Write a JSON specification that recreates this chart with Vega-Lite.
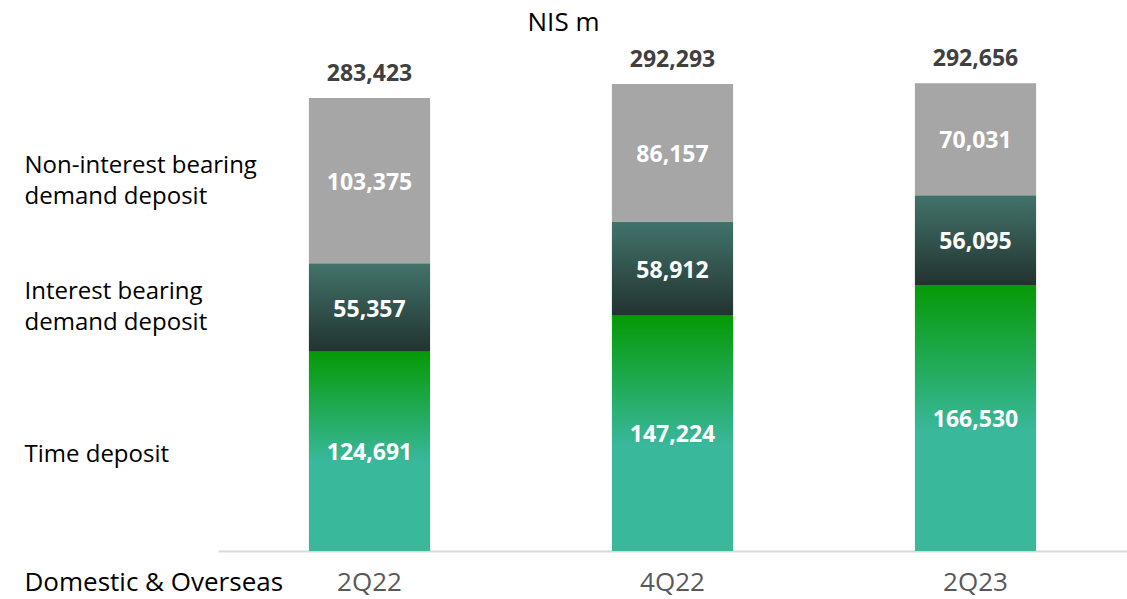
{
  "$schema": "https://vega.github.io/schema/vega-lite/v6.json",
  "autosize": "none",
  "width": 909,
  "height": 491,
  "padding": {"left": 218, "top": 60, "right": 0, "bottom": 48},
  "background": "white",
  "config": {"view": {"stroke": null}},
  "title": {
    "text": "NIS m",
    "font": "Open Sans",
    "fontSize": 26,
    "fontWeight": "normal",
    "color": "#000000",
    "anchor": "middle",
    "dx": -109,
    "offset": 12
  },
  "data": {
    "values": [
      {"quarter": "2Q22", "type": "Time deposit", "order": 1, "value": 124691},
      {"quarter": "2Q22", "type": "Interest bearing demand deposit", "order": 2, "value": 55357},
      {"quarter": "2Q22", "type": "Non-interest bearing demand deposit", "order": 3, "value": 103375},
      {"quarter": "4Q22", "type": "Time deposit", "order": 1, "value": 147224},
      {"quarter": "4Q22", "type": "Interest bearing demand deposit", "order": 2, "value": 58912},
      {"quarter": "4Q22", "type": "Non-interest bearing demand deposit", "order": 3, "value": 86157},
      {"quarter": "2Q23", "type": "Time deposit", "order": 1, "value": 166530},
      {"quarter": "2Q23", "type": "Interest bearing demand deposit", "order": 2, "value": 56095},
      {"quarter": "2Q23", "type": "Non-interest bearing demand deposit", "order": 3, "value": 70031}
    ]
  },
  "transform": [
    {"stack": "value", "groupby": ["quarter"], "sort": [{"field": "order", "order": "ascending"}], "as": ["v0", "v1"]},
    {"calculate": "(datum.v0 + datum.v1) / 2", "as": "mid"}
  ],
  "encoding": {
    "x": {
      "field": "quarter",
      "type": "nominal",
      "sort": ["2Q22", "4Q22", "2Q23"],
      "scale": {"paddingInner": 0.6, "paddingOuter": 0.3},
      "axis": {
        "title": "Domestic & Overseas",
        "titleFont": "Open Sans",
        "titleFontSize": 26,
        "titleFontWeight": "normal",
        "titleColor": "#000000",
        "titleAnchor": "start",
        "titleAlign": "left",
        "titleBaseline": "alphabetic",
        "titleX": -194,
        "titleY": 39,
        "titleLimit": 0,
        "labelAngle": 0,
        "labelFont": "Open Sans",
        "labelFontSize": 26,
        "labelColor": "#595959",
        "labelBaseline": "alphabetic",
        "labelPadding": 39,
        "ticks": false,
        "tickSize": 0,
        "domainColor": "#d9d9d9",
        "domainWidth": 2
      }
    }
  },
  "layer": [
    {
      "transform": [{"filter": "datum.order == 1"}],
      "mark": {
        "type": "bar",
        "color": {
          "gradient": "linear", "x1": 0, "y1": 0, "x2": 0, "y2": 1,
          "stops": [
            {"offset": 0, "color": "#059a06"},
            {"offset": 0.55, "color": "#39b89c"},
            {"offset": 1, "color": "#39b89c"}
          ]
        }
      },
      "encoding": {
        "y": {
          "field": "v0", "type": "quantitative",
          "scale": {"domain": [0, 307260], "nice": false, "zero": true},
          "axis": {
            "values": [60100, 162080, 240930],
            "labelExpr": "datum.value < 100000 ? 'Time deposit' : datum.value < 200000 ? ['Interest bearing', 'demand deposit'] : ['Non-interest bearing', 'demand deposit']",
            "title": null,
            "domain": false,
            "ticks": false,
            "tickSize": 0,
            "grid": false,
            "labelAlign": "left",
            "labelBaseline": "middle",
            "labelPadding": 194,
            "labelFont": "Open Sans",
            "labelFontSize": 24,
            "labelColor": "#000000",
            "labelLineHeight": 31,
            "labelLimit": 0,
            "labelOverlap": false,
            "labelBound": false,
            "labelFlush": false
          }
        },
        "y2": {"field": "v1"}
      }
    },
    {
      "transform": [{"filter": "datum.order == 2"}],
      "mark": {
        "type": "bar",
        "color": {
          "gradient": "linear", "x1": 0, "y1": 0, "x2": 0, "y2": 1,
          "stops": [
            {"offset": 0, "color": "#42736a"},
            {"offset": 1, "color": "#223330"}
          ]
        }
      },
      "encoding": {
        "y": {"field": "v0", "type": "quantitative"},
        "y2": {"field": "v1"}
      }
    },
    {
      "transform": [{"filter": "datum.order == 3"}],
      "mark": {"type": "bar", "color": "#a6a6a6"},
      "encoding": {
        "y": {"field": "v0", "type": "quantitative"},
        "y2": {"field": "v1"}
      }
    },
    {
      "mark": {"type": "text", "font": "Open Sans", "fontSize": 23, "fontWeight": "bold", "color": "#ffffff", "baseline": "middle", "dy": 2},
      "encoding": {
        "y": {"field": "mid", "type": "quantitative"},
        "text": {"field": "value", "type": "quantitative", "format": ","}
      }
    },
    {
      "transform": [{"aggregate": [{"op": "sum", "field": "value", "as": "total"}], "groupby": ["quarter"]}],
      "mark": {"type": "text", "font": "Open Sans", "fontSize": 23, "fontWeight": "bold", "color": "#404040", "baseline": "middle", "dy": -24},
      "encoding": {
        "y": {"field": "total", "type": "quantitative"},
        "text": {"field": "total", "type": "quantitative", "format": ","}
      }
    }
  ]
}
